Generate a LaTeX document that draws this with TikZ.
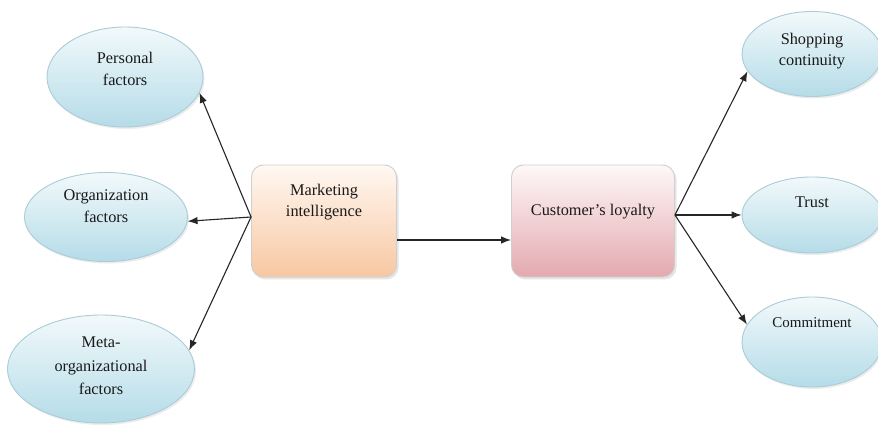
\documentclass[tikz,border=0pt]{standalone}
\usepackage{fontspec}
\setmainfont{Liberation Serif}
\usetikzlibrary{shapes.geometric,arrows.meta,shadows}
\definecolor{ovaltop}{HTML}{F2F9FB}
\definecolor{ovalbot}{HTML}{B5DCE8}
\definecolor{ovalline}{HTML}{A9CCD8}
\definecolor{mitop}{HTML}{FFF8F2}
\definecolor{mibot}{HTML}{F8C7A2}
\definecolor{cltop}{HTML}{FFF8F8}
\definecolor{clbot}{HTML}{E3A9AF}
\definecolor{boxline}{HTML}{CFCFCF}
\begin{document}
\begin{tikzpicture}[x=1pt,y=-1pt,
  oval/.style={ellipse, draw=ovalline, line width=0.9pt, top color=ovaltop, bottom color=ovalbot,
    inner sep=0pt, drop shadow={opacity=0.15, shadow xshift=1.5pt, shadow yshift=-2pt}},
  box/.style={rectangle, rounded corners=12pt, draw=boxline, line width=0.9pt, inner sep=0pt,
    minimum width=145pt, minimum height=112pt,
    drop shadow={opacity=0.2, shadow xshift=2pt, shadow yshift=-2.5pt}},
  txt/.style={align=center, font=\fontsize{16.3}{21.5}\selectfont, text=black!90, inner sep=0pt},
  arr/.style={line width=1.1pt, draw=black!85, -{Latex[length=10pt,width=7.5pt]}}
]
\fill[white] (0,0) rectangle (878,427);
\useasboundingbox (0,0) rectangle (878,427);

% left ovals
\node[oval, minimum width=156pt, minimum height=100pt] (pf) at (125,77) {};
\node[oval, minimum width=163pt, minimum height=89pt] (of) at (106,217) {};
\node[oval, minimum width=187pt, minimum height=108pt] (mf) at (101,369) {};
% right ovals
\node[oval, minimum width=140pt, minimum height=85pt] (sc) at (812,54) {};
\node[oval, minimum width=140pt, minimum height=76pt] (tr) at (812,215) {};
\node[oval, minimum width=140pt, minimum height=90pt] (cm) at (812,342) {};
% boxes
\node[box, top color=mitop, bottom color=mibot] (mi) at (324,221) {};
\node[box, top color=cltop, bottom color=clbot, minimum width=163pt] (cl) at (593,221) {};

% texts
\node[txt] (tpf) at ([yshift=8pt]pf.center) {Personal\\factors};
\node[txt] (tof) at ([yshift=11pt]of.center) {Organization\\factors};
\node[txt, font=\fontsize{16.3}{23.5}\selectfont] (tmf) at ([yshift=3pt]mf.center) {Meta-\\organizational\\factors};
\node[txt] (tsc) at ([yshift=3pt]sc.center) {Shopping\\continuity};
\node[txt] (ttr) at ([yshift=13pt]tr.center) {Trust};
\node[txt, font=\fontsize{15}{20}\selectfont] (tcm) at ([yshift=19pt]cm.center) {Commitment};
\node[txt] (tmi) at ([yshift=19pt]mi.center) {Marketing\\intelligence};
\node[txt] (tcl) at ([yshift=9pt]cl.center) {Customer's loyalty};

% connectors
\coordinate (mo) at ([yshift=4pt]mi.west);
\coordinate (co) at ([yshift=6pt]cl.east);
\draw[arr] (mo) -- (pf.-12);
\draw[arr] (mo) -- (of.-3);
\draw[arr] (mo) -- (mf.12);
\draw[arr] ([yshift=-19pt]mi.east) -- ([yshift=-19pt]cl.west);
\draw[arr] (co) -- (sc.-165);
\draw[arr] (co) -- (tr.west);
\draw[arr] (co) -- (cm.165);
\end{tikzpicture}
\end{document}
